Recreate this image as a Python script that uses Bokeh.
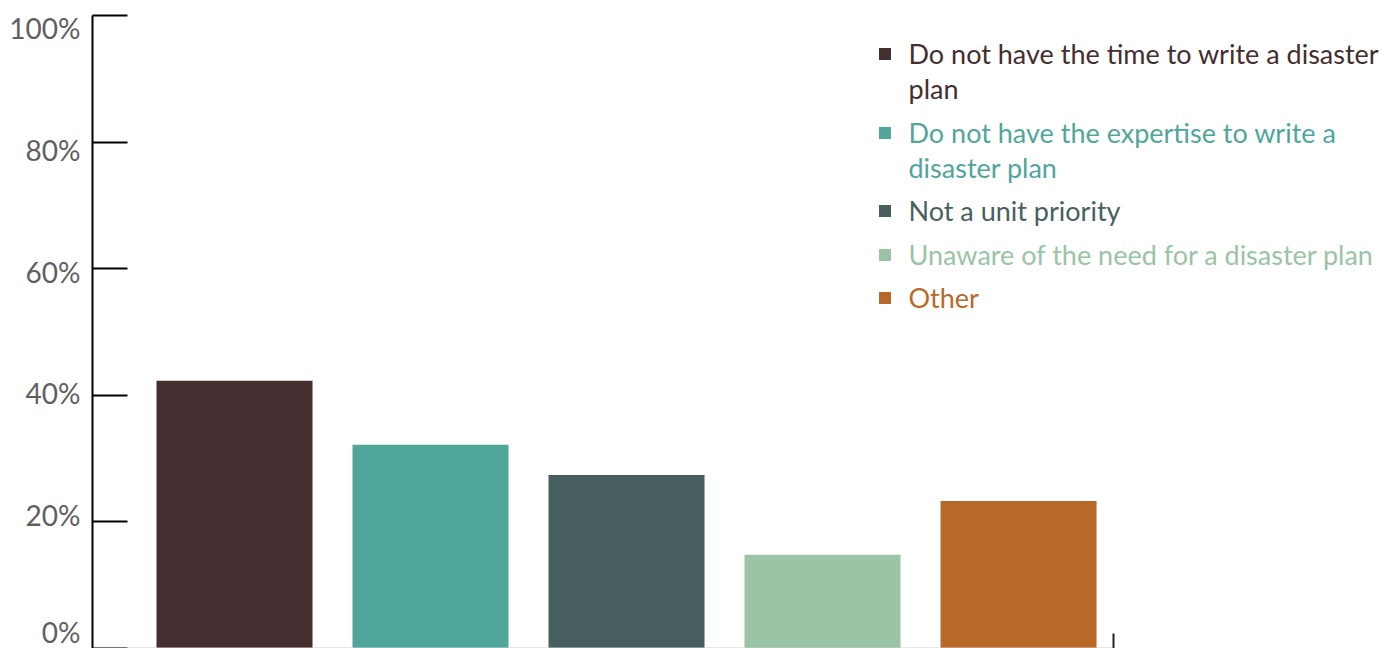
from bokeh.plotting import figure
from bokeh.models import (ColumnDataSource, Range1d, LinearAxis, FixedTicker,
                          Legend, LegendItem)
from bokeh.embed import file_html
from bokeh.resources import INLINE

# ---------------- data ----------------
categories = [
    "Do not have the time to write a disaster plan",
    "Do not have the expertise to write a disaster plan",
    "Not a unit priority",
    "Unaware of the need for a disaster plan",
    "Other",
]
legend_lines = [
    ["Do not have the time to write a disaster", "plan"],
    ["Do not have the expertise to write a", "disaster plan"],
    ["Not a unit priority"],
    ["Unaware of the need for a disaster plan"],
    ["Other"],
]
values = [42.3, 32.2, 27.4, 14.8, 23.3]
colors = ["#452E30", "#50A69B", "#475F5F", "#9BC3A6", "#B8692A"]
y_ticks = [0, 20, 40, 60, 80, 100]
y_tick_labels = ["0%", "20%", "40%", "60%", "80%", "100%"]

# ---------------- layout ----------------
FONT = "Lato"
FS_TICK = "28px"
FS_LEG = "27px"
X_START, X_END = 0.2755, 6.913
AXIS_END = 5.485
BAR_W = 0.796

p = figure(width=1393, height=648, output_backend="svg", toolbar_location=None,
           x_range=Range1d(X_START, X_END), y_range=Range1d(0, 100),
           x_axis_location=None, y_axis_location=None,
           min_border_left=92, min_border_right=0, min_border_top=15, min_border_bottom=0)
p.outline_line_color = None
p.xgrid.visible = False
p.ygrid.visible = False
p.background_fill_color = "white"
p.border_fill_color = "white"

src = ColumnDataSource(dict(x=list(range(1, len(values) + 1)), top=values,
                            color=colors, cat=categories))
r = p.vbar(x="x", top="top", width=BAR_W, bottom=0, source=src,
           fill_color="color", line_color=None)
# invisible twin used only as a blank legend glyph for wrapped legend lines
ghost = p.vbar(x="x", top="top", width=BAR_W, bottom=0, source=src,
               fill_alpha=0, line_alpha=0)

# y axis with ticks only (inward ticks)
tick_axis = LinearAxis(ticker=FixedTicker(ticks=y_ticks))
tick_axis.axis_line_color = "black"
tick_axis.axis_line_width = 2
tick_axis.major_tick_line_color = "black"
tick_axis.major_tick_line_width = 2
tick_axis.major_tick_in = 35
tick_axis.major_tick_out = 0
tick_axis.minor_tick_line_color = None
tick_axis.major_label_text_font_size = "0px"
tick_axis.major_label_text_alpha = 0
tick_axis.major_label_standoff = 0
p.add_layout(tick_axis, "left")

# label axis (labels sit slightly off the tick marks in the original)
p.extra_y_ranges = {"lab": Range1d(-1.89, 102.06)}
label_axis = LinearAxis(y_range_name="lab", ticker=FixedTicker(ticks=y_ticks))
label_axis.major_label_overrides = {t: l for t, l in zip(y_ticks, y_tick_labels)}
label_axis.axis_line_color = None
label_axis.major_tick_line_color = None
label_axis.minor_tick_line_color = None
label_axis.major_label_text_font = FONT
label_axis.major_label_text_font_size = FS_TICK
label_axis.major_label_text_color = "#5f5f5f"
label_axis.major_label_standoff = 6
p.add_layout(label_axis, "left")

# x axis: light baseline with a single end tick
x_axis = LinearAxis(ticker=FixedTicker(ticks=[AXIS_END]), bounds=(X_START, AXIS_END))
x_axis.axis_line_color = "#d0d0d0"
x_axis.axis_line_width = 2
x_axis.major_tick_line_color = "#222222"
x_axis.major_tick_line_width = 2
x_axis.major_tick_in = 15
x_axis.major_tick_out = 0
x_axis.minor_tick_line_color = None
x_axis.major_label_text_font_size = "0px"
x_axis.major_label_standoff = 0
p.add_layout(x_axis, "below")

# legends (one per line so each label keeps its own colour)
FRAME_LEFT = 92
FRAME_BOTTOM = 646
GLYPH_BOX_LEFT = 876.5 - FRAME_LEFT
first_center = 51.5
line_step = 35
item_step = 43.5
LH = 36
c = first_center
for i, lines in enumerate(legend_lines):
    for j, line in enumerate(lines):
        vy = FRAME_BOTTOM - c - LH / 2
        rend = r if j == 0 else ghost
        leg = Legend(items=[LegendItem(label=line, renderers=[rend], index=i)],
                     location=(GLYPH_BOX_LEFT, vy), glyph_width=15, glyph_height=15,
                     label_standoff=17)
        leg.padding = 0
        leg.margin = 0
        leg.spacing = 0
        leg.border_line_color = None
        leg.background_fill_alpha = 0
        leg.label_height = LH
        leg.label_text_font = FONT
        leg.label_text_font_size = FS_LEG
        leg.label_text_color = colors[i]
        leg.label_text_baseline = "middle"
        p.add_layout(leg)
        if j < len(lines) - 1:
            c += line_step
    c += item_step

open("out.html", "w").write(file_html(p, INLINE))
